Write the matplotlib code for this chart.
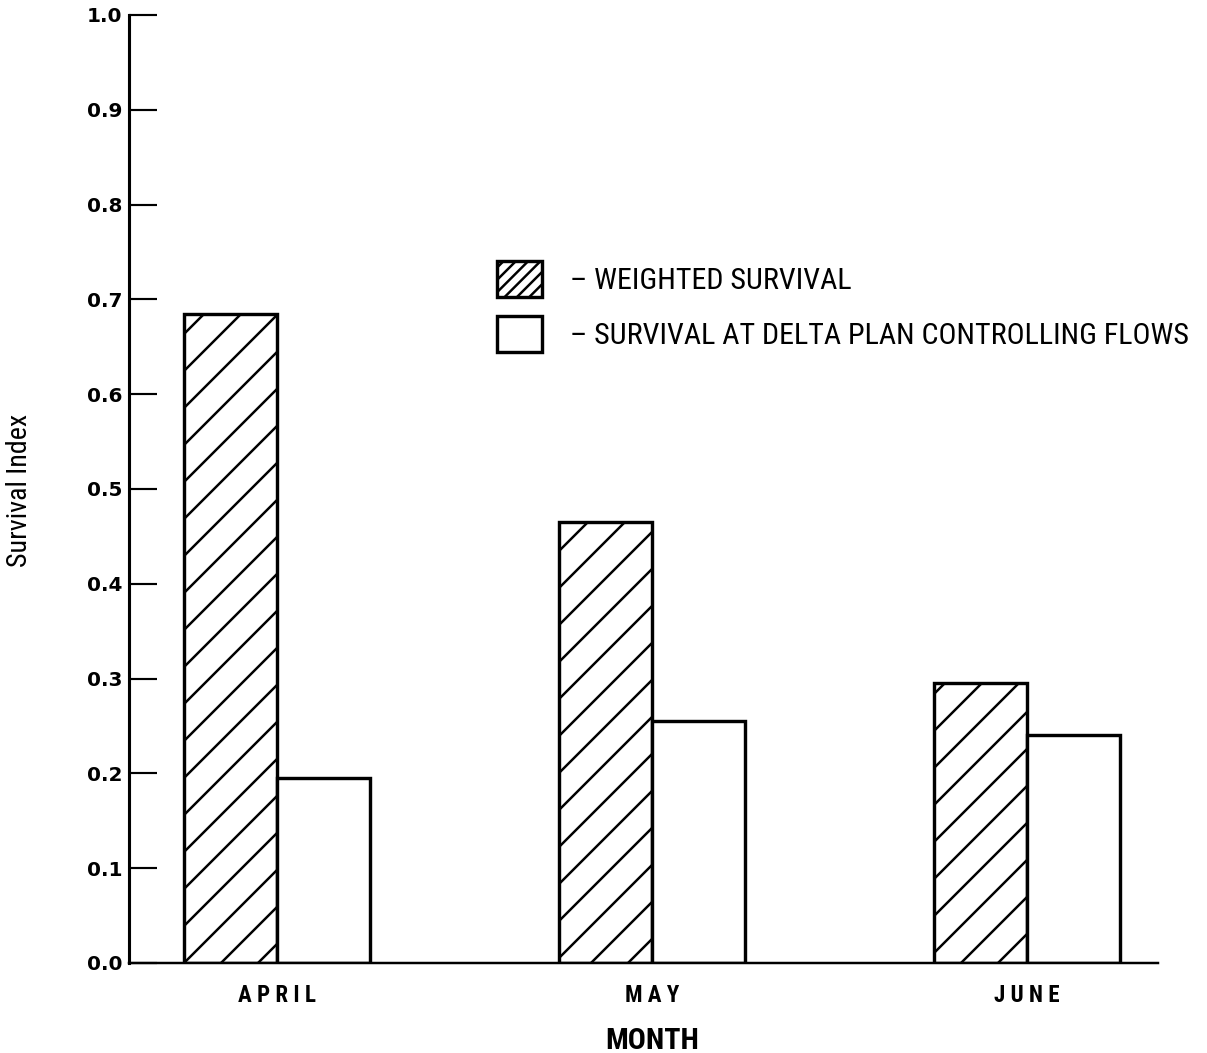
import matplotlib
matplotlib.use("Agg")
import matplotlib.pyplot as plt
from matplotlib import font_manager
from matplotlib.patches import Patch
import numpy as np

# hatch spacing in matplotlib scales with dpi: 222 dpi gives the wide '/' pitch of the scan
DPI = 222
PX = 72.0 / DPI  # points per pixel

months = ["A P R I L", "M A Y", "J U N E"]
weighted = [0.685, 0.465, 0.295]
delta_plan = [0.195, 0.255, 0.24]
yticks = [0.0, 0.1, 0.2, 0.3, 0.4, 0.5, 0.6, 0.7, 0.8, 0.9, 1.0]
ytick_labels = ["0.0", "0.1", "0.2", "0.3", "0.4", "0.5", "0.6", "0.7", "0.8", "0.9", "1.0"]
legend_labels = ["\u2013 WEIGHTED SURVIVAL", "\u2013 SURVIVAL AT DELTA PLAN CONTROLLING FLOWS"]


def _has_font(name):
    try:
        font_manager.findfont(font_manager.FontProperties(family=name), fallback_to_default=False)
        return True
    except Exception:
        return False


# the scan is set in a narrow grotesque; use a condensed face if one is around,
# otherwise plain Liberation Sans shrunk to the same widths
NARROW, K = "Liberation Sans", 0.82
for cand in ("Liberation Sans Narrow", "Roboto Condensed", "Open Sans Condensed"):
    if _has_font(cand):
        NARROW, K = cand, 1.0
        break

plt.rcParams.update({
    'hatch.linewidth': 0.8,
    'axes.linewidth': 1.0,
})

W, H = 1207, 1053
fig = plt.figure(figsize=(W / DPI, H / DPI), dpi=DPI)
ax = fig.add_axes([129 / W, 1 - 963 / H, (1158 - 129) / W, (963 - 15) / H])

x = np.arange(len(months))
w = 0.248
ax.bar(x - w / 2, weighted, width=w, facecolor='white', edgecolor='black',
       hatch='//', linewidth=1.1)
ax.bar(x + w / 2, delta_plan, width=w, facecolor='white', edgecolor='black',
       linewidth=1.1)

ax.set_xlim(-0.395, 2.349)
ax.set_ylim(0, 1.0)
for s in ('top', 'right'):
    ax.spines[s].set_visible(False)
ax.spines['bottom'].set_linewidth(0.8)

ax.set_yticks(yticks)
ax.set_yticklabels(ytick_labels, fontfamily='DejaVu Sans', fontweight='bold',
                   fontsize=20 * PX)
ax.tick_params(axis='y', direction='in', length=28 * PX, width=0.7, pad=7 * PX)

ax.set_xticks(x)
ax.set_xticklabels(months, fontfamily=NARROW, fontweight='bold', fontsize=23 * K * PX)
ax.tick_params(axis='x', length=0, pad=21 * PX)

ax.set_xlabel("MONTH", fontfamily=NARROW, fontweight='bold', fontsize=30 * K * PX)
ax.xaxis.set_label_coords((652 - 129) / 1029, -(1041 - 963) / 948)
ax.xaxis.label.set_va('center')

ax.set_ylabel("Survival Index", fontfamily=NARROW, fontsize=28 * K * PX)
ax.yaxis.set_label_coords((20 - 129) / 1029, (963 - 490) / 948)
ax.yaxis.label.set_va('center')

handles = [Patch(facecolor='white', edgecolor='black', hatch='//////', linewidth=1.1),
           Patch(facecolor='white', edgecolor='black', linewidth=1.1)]
fs = 30 * K
ax.legend(handles, legend_labels, loc='upper left',
          bbox_to_anchor=(497 / W, 1 - 261 / H), bbox_transform=fig.transFigure,
          frameon=False, borderpad=0, borderaxespad=0,
          prop={'family': NARROW, 'size': fs * PX},
          handlelength=45 / fs, handleheight=44 / fs,
          handletextpad=28 / fs, labelspacing=19 / fs)

fig.savefig("out.png", dpi=DPI)
